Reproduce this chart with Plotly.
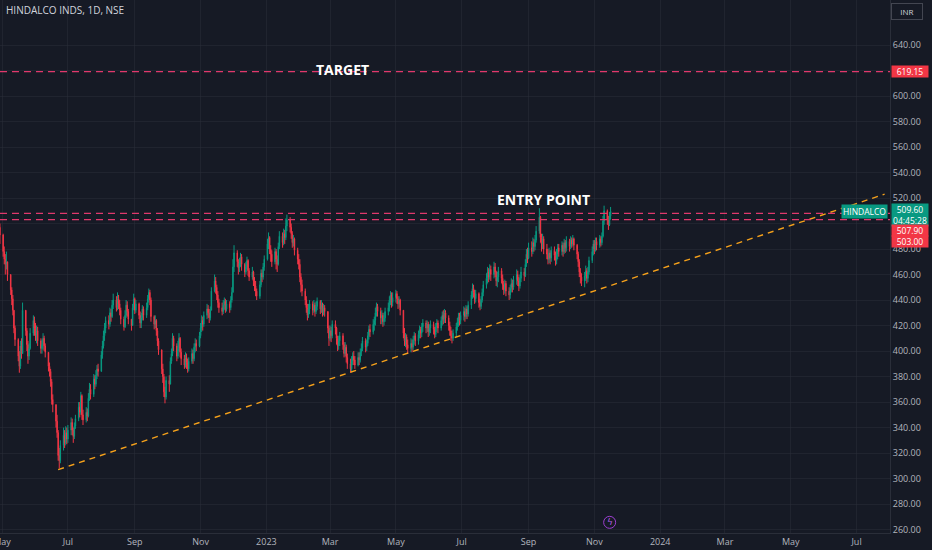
"""HINDALCO INDS daily candles with target / entry levels and a rising trendline."""

import numpy as np
import pandas as pd
import plotly.graph_objects as go

# daily closes, 2022-04-28 .. 2023-11-16 (one line per month)
close = [
    497, 491,
    478, 472, 468, 470, 460, 448, 441, 432, 418, 409, 396, 388, 404, 398, 432, 416, 405, 396, 402, 414, 424, 418,
    412, 416, 408, 402, 405, 410, 404, 399, 388, 384, 376, 362, 358, 345, 336, 318, 314, 326, 334, 328, 336, 331,
    338, 344, 338, 333, 341, 347, 356, 352, 365, 350, 346, 352, 349, 363, 370, 366, 378, 374, 381, 386, 384,
    397, 404, 412, 418, 424, 421, 430, 427, 436, 440, 434, 441, 437, 432, 425, 419, 428, 436, 431, 425, 420, 434, 441,
    432, 437, 428, 422, 426, 433, 428, 434, 441, 446, 440, 427, 421, 424, 416, 408, 401, 386, 380, 368, 364, 377,
    374, 392, 398, 410, 404, 396, 402, 410, 399, 394, 389, 395, 391, 386, 392, 398, 394, 403, 406, 404, 412,
    418, 424, 421, 428, 433, 430, 426, 432, 447, 455, 450, 444, 438, 434, 431, 436, 439, 433, 437, 434, 440, 446,
    466, 477, 470, 465, 469, 474, 468, 462, 466, 471, 463, 458, 462, 455, 451, 447, 443, 452, 461, 458, 466, 472,
    484, 489, 480, 476, 470, 478, 472, 468, 482, 490, 485, 492, 489, 498, 503, 497, 492, 485, 488, 479, 472, 468,
    458, 452, 447, 440, 434, 428, 433, 437, 432, 436, 431, 435, 439, 433, 436, 430, 434, 431, 418, 410,
    416, 412, 421, 418, 410, 404, 408, 412, 405, 398, 403, 395, 390, 386, 392, 396, 393, 389, 395, 393, 399, 402, 408,
    403, 406, 412, 417, 415, 421, 424, 430, 435, 431, 426, 428, 423, 426, 431, 434, 440, 444, 438, 442,
    445, 441, 437, 440, 432, 414, 408, 411, 405, 402, 406, 403, 409, 412, 408, 413, 417, 414, 419, 422, 418, 421, 415,
    418, 421, 417, 413, 419, 422, 418, 424, 428, 425, 430, 426, 420, 416, 412, 410, 414, 419, 423, 427, 424, 428,
    431, 427, 433, 429, 436, 444, 449, 446, 441, 445, 438, 435, 440, 446, 452, 457, 462, 458, 464, 460, 466,
    462, 455, 458, 463, 457, 452, 448, 453, 447, 444, 449, 453, 450, 456, 460, 455, 451, 457, 462, 459, 468, 476, 473,
    481, 478, 485, 482, 487, 494, 505, 489, 484, 488, 480, 476, 472, 477, 473, 479, 475, 471, 476, 481, 478,
    483, 478, 485, 481, 486, 482, 487, 484, 488, 483, 476, 470, 462, 458, 455, 459, 463, 457, 462, 471, 478, 484,
    480, 486, 483, 488, 485, 490, 502, 510, 503, 499, 506, 509.6,
]
high = [
    503, 500,
    492, 482, 476, 478, 468, 458, 450, 444, 430, 420, 410, 400, 408, 410, 438, 430, 418, 408, 406, 418, 428, 427,
    422, 420, 419, 410, 409, 414, 412, 406, 394, 391, 386, 378, 366, 356, 350, 338, 324, 330, 340, 338, 341, 340,
    342, 348, 347, 340, 344, 350, 360, 360, 368, 366, 354, 356, 355, 367, 375, 374, 382, 381, 385, 389, 390,
    400, 408, 416, 422, 427, 428, 434, 433, 440, 445, 443, 446, 444, 440, 434, 427, 432, 440, 439, 433, 425, 437, 445,
    442, 440, 438, 431, 430, 436, 435, 438, 444, 449, 448, 442, 428, 428, 425, 418, 410, 398, 390, 382, 372, 380,
    381, 395, 402, 414, 412, 406, 408, 414, 411, 402, 397, 399, 398, 394, 395, 402, 401, 406, 410, 409, 415,
    422, 428, 427, 431, 437, 436, 433, 435, 450, 460, 458, 452, 447, 441, 438, 440, 442, 441, 440, 439, 443, 450,
    472, 483, 479, 472, 473, 477, 476, 469, 470, 474, 472, 465, 466, 463, 458, 455, 449, 455, 464, 464, 469, 475,
    488, 493, 490, 483, 479, 481, 480, 475, 485, 494, 493, 496, 495, 504, 507, 505, 500, 494, 491, 489, 481, 476,
    472, 461, 456, 449, 443, 437, 437, 440, 439, 440, 438, 439, 442, 440, 440, 438, 437, 436, 430, 420,
    420, 419, 424, 424, 419, 412, 412, 415, 414, 407, 407, 405, 398, 394, 396, 399, 400, 396, 399, 399, 402, 406, 411,
    410, 409, 415, 420, 421, 425, 427, 434, 438, 437, 434, 432, 430, 430, 434, 438, 443, 447, 446, 446,
    448, 447, 443, 443, 441, 430, 418, 414, 413, 409, 410, 409, 412, 415, 414, 416, 420, 419, 422, 425, 424, 424, 423,
    421, 424, 423, 419, 422, 425, 424, 427, 431, 432, 433, 432, 428, 423, 419, 416, 417, 422, 426, 430, 430, 431,
    435, 434, 436, 435, 439, 447, 453, 452, 448, 448, 446, 441, 443, 449, 455, 461, 466, 465, 468, 467, 470,
    469, 463, 462, 466, 465, 460, 455, 456, 455, 450, 452, 457, 456, 459, 464, 463, 458, 460, 466, 465, 472, 480, 481,
    485, 486, 489, 488, 491, 498, 512, 506, 492, 492, 490, 484, 480, 481, 479, 482, 482, 478, 480, 484, 484,
    486, 485, 488, 487, 490, 488, 490, 489, 491, 489, 484, 478, 472, 465, 461, 462, 467, 465, 466, 474, 482, 487,
    487, 489, 489, 491, 490, 493, 506, 514, 511, 506, 509, 513,
]
low = [
    488, 484,
    474, 468, 460, 464, 455, 444, 436, 428, 414, 404, 392, 383, 386, 394, 400, 412, 400, 390, 393, 401, 412, 412,
    408, 406, 404, 398, 398, 401, 400, 395, 384, 380, 372, 358, 352, 340, 332, 314, 308, 312, 322, 324, 326, 327,
    328, 334, 334, 328, 331, 339, 345, 348, 350, 346, 342, 344, 345, 348, 361, 362, 364, 370, 372, 378, 380,
    384, 394, 402, 408, 414, 417, 419, 423, 426, 433, 431, 432, 433, 428, 421, 416, 418, 426, 427, 421, 416, 421, 432,
    429, 430, 425, 418, 418, 424, 424, 426, 432, 438, 436, 423, 417, 418, 412, 404, 397, 382, 375, 364, 359, 362,
    368, 376, 390, 396, 400, 392, 394, 400, 395, 389, 386, 387, 386, 383, 384, 390, 390, 392, 399, 400, 403,
    410, 415, 416, 419, 425, 426, 422, 424, 434, 446, 445, 440, 434, 430, 428, 429, 432, 430, 431, 430, 432, 438,
    446, 462, 466, 460, 462, 466, 463, 458, 460, 464, 459, 455, 456, 451, 447, 443, 440, 441, 450, 454, 456, 463,
    471, 480, 476, 470, 466, 468, 464, 462, 467, 480, 481, 483, 484, 487, 494, 493, 488, 481, 482, 475, 468, 464,
    454, 446, 443, 436, 430, 424, 426, 429, 428, 430, 427, 429, 432, 429, 430, 427, 428, 427, 414, 404,
    408, 407, 410, 413, 405, 400, 401, 404, 401, 395, 396, 391, 386, 383, 384, 389, 389, 386, 388, 389, 391, 396, 400,
    399, 400, 404, 409, 411, 413, 416, 420, 427, 427, 421, 421, 419, 420, 423, 428, 431, 436, 434, 435,
    438, 437, 433, 434, 428, 410, 404, 403, 401, 398, 399, 399, 401, 405, 404, 405, 410, 410, 411, 415, 414, 415, 411,
    412, 414, 413, 410, 411, 415, 414, 416, 420, 421, 422, 422, 416, 412, 408, 406, 408, 411, 416, 419, 420, 421,
    424, 423, 425, 425, 427, 433, 441, 442, 437, 438, 434, 432, 433, 438, 443, 449, 453, 454, 456, 455, 457,
    458, 451, 450, 454, 453, 448, 444, 445, 443, 440, 441, 446, 446, 448, 452, 451, 447, 449, 454, 455, 458, 466, 469,
    472, 474, 476, 478, 479, 485, 492, 485, 478, 480, 476, 472, 468, 469, 468, 470, 471, 467, 468, 472, 474,
    475, 474, 476, 477, 478, 478, 480, 481, 482, 479, 472, 466, 458, 453, 451, 450, 455, 453, 454, 460, 469, 475,
    476, 478, 479, 481, 482, 483, 489, 499, 499, 495, 498, 503,
]
first_open = 499

# drawn levels
target_level = 619.15
entry_levels = [507.90, 503.00]
trend_dates = ["2022-06-22", "2024-07-27"]
trend_prices = [307, 523]

tick_dates = ["2022-05-01", "2022-07-01", "2022-09-01", "2022-11-01", "2023-01-01", "2023-03-01", "2023-05-01",
              "2023-07-01", "2023-09-01", "2023-11-01", "2024-01-01", "2024-03-01", "2024-05-01", "2024-07-01"]
tick_text = ["May", "Jul", "Sep", "Nov", "2023", "Mar", "May", "Jul", "Sep", "Nov", "2024", "Mar", "May", "Jul"]
price_ticks = list(range(260, 660, 20))
hidden_ticks = [500, 620]  # covered by the price tags on the axis

BG = "#161a25"
GRID = "rgba(42,46,57,0.55)"
AXIS_TXT = "#b2b5be"
UP = "#089981"
DOWN = "#f23645"
LEVEL = "#e0386c"
FONT = "Open Sans"

c = np.array(close, dtype=float)
o = np.concatenate([[first_open], c[:-1]])
h = np.maximum.reduce([np.array(high, dtype=float), o, c])
lo = np.minimum.reduce([np.array(low, dtype=float), o, c])
dates = pd.bdate_range("2022-04-28", periods=len(c))

fig = go.Figure()
fig.add_trace(go.Candlestick(
    x=dates, open=o, high=h, low=lo, close=c,
    increasing=dict(line=dict(color=UP, width=1), fillcolor=UP),
    decreasing=dict(line=dict(color=DOWN, width=1), fillcolor=DOWN),
    whiskerwidth=0, hoverinfo="skip", showlegend=False,
))
fig.add_trace(go.Scatter(
    x=trend_dates, y=trend_prices, mode="lines",
    line=dict(color="#f7a21b", width=1.4, dash="6px,5px"),
    hoverinfo="skip", showlegend=False,
))

for lvl in [target_level] + entry_levels:
    fig.add_hline(y=lvl, line=dict(color=LEVEL, width=1.2, dash="7px,5px"))

# right-axis price tags (stacked like TradingView)
tag = dict(xref="paper", yref="y", x=1, xshift=1, xanchor="left", showarrow=False, width=36,
           font=dict(family=FONT, size=8.5, color="#ffffff"), borderpad=0)
fig.add_annotation(y=target_level, text=f"{target_level:.2f}", bgcolor=DOWN, **tag)
fig.add_annotation(y=c[-1], yshift=-4, text=f"{c[-1]:.2f}<br>04:45:28", bgcolor=UP, **tag)
fig.add_annotation(y=entry_levels[0], yshift=-17, text=f"{entry_levels[0]:.2f}", bgcolor=DOWN, **tag)
fig.add_annotation(y=entry_levels[1], yshift=-22, text=f"{entry_levels[1]:.2f}", bgcolor=DOWN, **tag)
fig.add_annotation(xref="paper", yref="y", x=1, xshift=-2, xanchor="right", y=c[-1], text="HINDALCO",
                   showarrow=False, bgcolor=UP, borderpad=1,
                   font=dict(family=FONT, size=8.5, color="#ffffff"))

# text labels
fig.add_annotation(xref="paper", yref="paper", x=0.004, y=0.981, xanchor="left", yanchor="middle",
                   text="HINDALCO INDS, 1D, NSE", showarrow=False,
                   font=dict(family=FONT, size=10, color="#d1d4dc"))
fig.add_annotation(xref="paper", yref="paper", x=0.385, y=0.891, text="<b>TARGET</b>", showarrow=False,
                   font=dict(family=FONT, size=14, color="#ffffff"))
fig.add_annotation(xref="paper", yref="paper", x=0.611, y=0.625, text="<b>ENTRY POINT</b>", showarrow=False,
                   font=dict(family=FONT, size=14, color="#ffffff"))
fig.add_annotation(xref="paper", yref="paper", x=1, xshift=17, xanchor="center", y=0.979, yanchor="middle",
                   text="INR", showarrow=False,
                   width=26, bordercolor="#434651", borderwidth=1, borderpad=2, bgcolor=BG,
                   font=dict(family=FONT, size=8, color="#d1d4dc"))

# lightning marker near the time axis
fig.add_shape(type="circle", xref="paper", yref="paper", xsizemode="pixel", ysizemode="pixel",
              xanchor=0.685, yanchor=0.02, x0=-6, x1=6, y0=-6, y1=6,
              line=dict(color="#9c3fd1", width=1))
fig.add_annotation(xref="paper", yref="paper", x=0.685, y=0.02, xanchor="center", yanchor="middle",
                   text="ϟ", showarrow=False,
                   font=dict(family="DejaVu Sans", size=9, color="#b45ee8"))

fig.update_layout(
    width=932, height=550,
    margin=dict(l=0, r=42, t=0, b=17, autoexpand=False),
    paper_bgcolor=BG, plot_bgcolor=BG,
    font=dict(family=FONT, color=AXIS_TXT, size=9),
    showlegend=False,
    hovermode=False,
    xaxis=dict(
        type="date", range=["2022-04-29 02:00", "2024-08-01"],
        tickvals=tick_dates, ticktext=tick_text, tickfont=dict(size=9, color=AXIS_TXT),
        ticklabeloverflow="allow",
        showgrid=True, gridcolor=GRID, gridwidth=1, zeroline=False, automargin=False,
        showline=True, linecolor="#2a2e39", ticks="", rangeslider=dict(visible=False),
    ),
    yaxis=dict(
        side="right", range=[257.3, 675.3], automargin=False,
        tickvals=price_ticks,
        ticktext=["" if v in hidden_ticks else f"{v:.2f}" for v in price_ticks],
        tickfont=dict(size=9, color=AXIS_TXT),
        showgrid=True, gridcolor=GRID, gridwidth=1, zeroline=False,
        showline=True, linecolor="#2a2e39", ticks="", ticklen=0,
    ),
)

# the page body has a default 8px margin; drop it so the chart sits at the window origin
fig.write_html(
    "out.html",
    config={"displayModeBar": False},
    post_script="document.body.style.margin='0px';document.body.style.background='#161a25';",
)
